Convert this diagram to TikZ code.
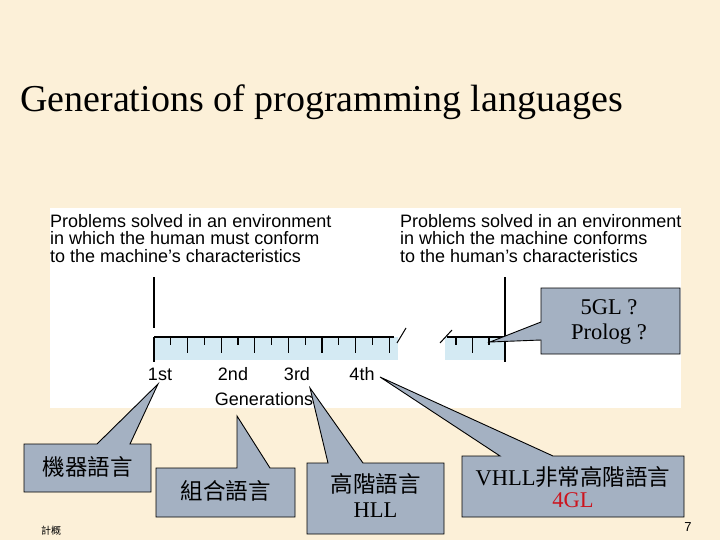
\documentclass[tikz,border=0pt]{standalone}
\usepackage{fontspec}
\setmainfont{Liberation Serif}
\setsansfont{Liberation Sans}
\newfontfamily\cjk{Noto Sans CJK TC}
\definecolor{bgcol}{RGB}{252,240,216}
\definecolor{callfill}{RGB}{164,177,194}
\definecolor{rulerfill}{RGB}{212,234,243}
\definecolor{redtext}{RGB}{204,20,30}
\tikzset{
  callout/.style={draw=black,fill=callfill,line width=0.9pt,line join=miter},
  calltext/.style={inner sep=0pt,font=\fontsize{22.5}{24}\selectfont},
  paneltext/.style={inner sep=0pt,anchor=north west,align=left,font=\sffamily\fontsize{18}{17.5}\selectfont},
  genlabel/.style={inner sep=0pt,anchor=base,font=\sffamily\fontsize{18}{18}\selectfont},
  rulerline/.style={line width=1.2pt,black}
}
\begin{document}
\begin{tikzpicture}[x=1pt,y=-1pt]
\useasboundingbox (0,0) rectangle (720,540);
\fill[bgcol] (0,0) rectangle (720,540);
% title
\node[inner sep=0pt,anchor=base west,font=\fontsize{38}{42}\selectfont] (title) at (20,112) {Generations of programming languages};
% white panel
\fill[white] (50,208) rectangle (681,408);
\node[paneltext] (lefttext) at (50,214) {Problems solved in an environment\\in which the human must conform\\to the machine's characteristics};
\node[paneltext] (righttext) at (400,214) {Problems solved in an environment\\in which the machine conforms\\to the human's characteristics};
% ruler left part
\fill[rulerfill] (154,337) rectangle (398,360);
\draw[rulerline] (154,277) -- (154,328);
\draw[rulerline] (154,337) -- (394,337);
\draw[rulerline] (154,337) -- (154,362);
\foreach \k in {1,...,14}{
  \pgfmathsetmacro{\xx}{154+\k*16.8}
  \ifodd\k
    \draw[rulerline] (\xx,337) -- (\xx,345);
  \else
    \draw[rulerline] (\xx,337) -- (\xx,353);
  \fi
}
\draw[line width=1pt] (397,343) -- (406,328);
% ruler right part
\fill[rulerfill] (445,337) rectangle (505,360);
\draw[line width=1pt] (440,343) -- (452,330);
\draw[rulerline] (447,337) -- (505,337);
\draw[rulerline] (456,337) -- (456,345);
\draw[rulerline] (472.5,337) -- (472.5,353);
\draw[rulerline] (489,337) -- (489,345);
\draw[rulerline] (505,277) -- (505,362);
% generation labels
\node[genlabel] (g1) at (160,380) {1st};
\node[genlabel] (g2) at (233,380) {2nd};
\node[genlabel] (g3) at (297,380) {3rd};
\node[genlabel] (g4) at (362,380) {4th};
\node[genlabel] (gen) at (264,405) {Generations};
% callout 1
\draw[callout] (24,444) -- (97,444) -- (158,384) -- (130,444) -- (151,444) -- (151,492) -- (24,492) -- cycle;
\node[calltext] (c1) at (87.5,467) {\cjk 機器語言};
% callout 2
\draw[callout] (156,468) -- (237,468) -- (237,416) -- (270,468) -- (295,468) -- (295,517) -- (156,517) -- cycle;
\node[calltext] (c2) at (225.5,491) {\cjk 組合語言};
% callout 3
\draw[callout] (307,463) -- (328,463) -- (310,388) -- (363,463) -- (444,463) -- (444,534) -- (307,534) -- cycle;
\node[calltext] (c3a) at (375.5,484) {\cjk 高階語言};
\node[calltext] (c3b) at (375.5,510) {HLL};
% callout 4
\draw[callout] (462,456) -- (500,456) -- (380,377) -- (553,456) -- (684,456) -- (684,517) -- (462,517) -- cycle;
\node[calltext] (c4a) at (573,477) {VHLL{\cjk 非常高階語言}};
\node[calltext,text=redtext] (c4b) at (573,500) {4GL};
% callout 5
\draw[callout] (541,288) -- (680,288) -- (680,354) -- (541,354) -- (541,340) -- (490,342) -- (541,322) -- cycle;
\node[calltext] (c5a) at (609,307) {5GL ?};
\node[calltext] (c5b) at (609,334) {Prolog ?};
% footer
\node[inner sep=0pt,font=\cjk\fontsize{10}{10}\selectfont] (foot) at (51,531) {計概};
\node[inner sep=0pt,font=\sffamily\fontsize{13}{13}\selectfont] (pagenum) at (688,527) {7};
\end{tikzpicture}
\end{document}
